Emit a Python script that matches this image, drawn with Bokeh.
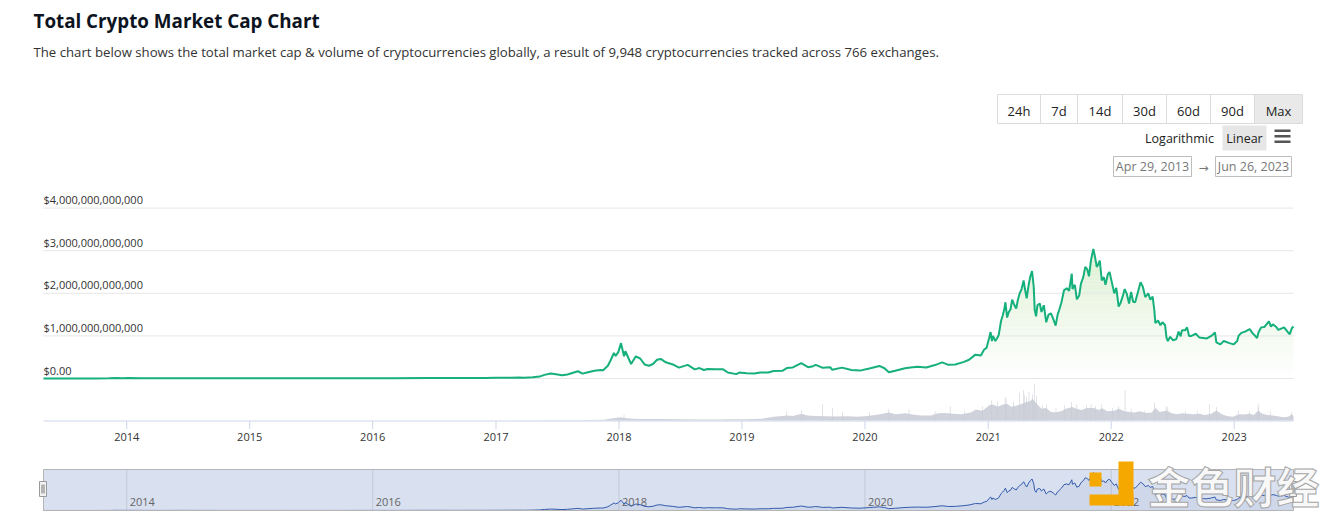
import datetime as dt
import numpy as np
from bokeh.plotting import figure
from bokeh.models import Range1d
from bokeh.layouts import column
from bokeh.core.properties import value
from bokeh.embed import file_html
from bokeh.resources import INLINE

# ---------------- data ----------------
title_text = "Total Crypto Market Cap Chart"
subtitle_text = ("The chart below shows the total market cap & volume of cryptocurrencies globally, "
                 "a result of 9,948 cryptocurrencies tracked across 766 exchanges.")
range_buttons = ["24h", "7d", "14d", "30d", "60d", "90d", "Max"]
scale_buttons = ["Logarithmic", "Linear"]
start_label = "Apr 29, 2013"
end_label = "Jun 26, 2023"
start_date = "2013-04-29"
end_date = "2023-06-26"

ytick_values = [0, 1000, 2000, 3000, 4000]  # billions USD
ytick_labels = ["$0.00", "$1,000,000,000,000", "$2,000,000,000,000",
                "$3,000,000,000,000", "$4,000,000,000,000"]
xtick_years = [2014, 2015, 2016, 2017, 2018, 2019, 2020, 2021, 2022, 2023]
xtick_labels = ["2014", "2015", "2016", "2017", "2018", "2019", "2020", "2021", "2022", "2023"]
nav_tick_years = [2014, 2016, 2018, 2020, 2022]
nav_tick_labels = ["2014", "2016", "2018", "2020", "2022"]

# total market cap, billions USD
mc_dates = [
    "2013-04-29", "2013-06-01", "2013-08-01", "2013-10-01", "2013-11-10", "2013-12-01", "2013-12-20",
    "2014-01-05", "2014-02-15", "2014-04-10", "2014-06-01", "2014-08-01", "2014-10-01", "2014-12-15",
    "2015-01-15", "2015-04-01", "2015-07-01", "2015-09-01", "2015-11-05", "2015-12-31",
    "2016-03-01", "2016-06-17", "2016-09-01", "2016-12-01", "2016-12-31",
    "2017-01-15", "2017-02-15", "2017-03-10", "2017-03-25", "2017-04-20", "2017-05-10", "2017-05-25",
    "2017-06-12", "2017-06-28", "2017-07-16", "2017-08-01", "2017-08-20", "2017-09-01", "2017-09-15",
    "2017-10-01", "2017-10-20", "2017-11-07", "2017-11-15", "2017-11-29", "2017-12-08", "2017-12-17",
    "2017-12-22", "2017-12-30", "2018-01-07", "2018-01-16", "2018-01-20", "2018-02-06", "2018-02-20",
    "2018-03-05", "2018-03-18", "2018-03-31", "2018-04-12", "2018-04-24", "2018-05-05", "2018-05-20",
    "2018-06-10", "2018-06-28", "2018-07-24", "2018-08-14", "2018-08-28", "2018-09-10", "2018-09-21",
    "2018-10-15", "2018-11-06", "2018-11-20", "2018-12-15", "2018-12-24", "2019-01-15", "2019-02-07",
    "2019-02-24", "2019-03-20", "2019-04-05", "2019-05-01", "2019-05-14", "2019-06-01", "2019-06-26",
    "2019-07-16", "2019-07-28", "2019-08-08", "2019-08-29", "2019-09-20", "2019-09-26", "2019-10-25",
    "2019-11-22", "2019-12-17", "2020-01-14", "2020-02-13", "2020-02-28", "2020-03-12", "2020-03-31",
    "2020-04-29", "2020-05-15", "2020-06-05", "2020-07-01", "2020-07-27", "2020-08-17", "2020-09-05",
    "2020-09-25", "2020-10-21", "2020-11-05", "2020-11-24", "2020-12-10", "2020-12-20", "2020-12-27",
    "2021-01-03", "2021-01-08", "2021-01-12", "2021-01-15", "2021-01-22", "2021-01-27", "2021-02-01",
    "2021-02-08", "2021-02-13", "2021-02-17", "2021-02-21", "2021-02-26", "2021-03-03", "2021-03-08",
    "2021-03-13", "2021-03-18", "2021-03-25", "2021-03-30", "2021-04-04", "2021-04-10", "2021-04-16",
    "2021-04-20", "2021-04-25", "2021-05-01", "2021-05-06", "2021-05-11", "2021-05-16", "2021-05-19",
    "2021-05-23", "2021-05-27", "2021-06-03", "2021-06-08", "2021-06-15", "2021-06-22", "2021-06-29",
    "2021-07-06", "2021-07-13", "2021-07-20", "2021-07-26", "2021-07-31", "2021-08-06", "2021-08-14",
    "2021-08-22", "2021-08-29", "2021-09-06", "2021-09-08", "2021-09-15", "2021-09-21", "2021-09-28",
    "2021-10-03", "2021-10-10", "2021-10-16", "2021-10-22", "2021-10-27", "2021-11-02", "2021-11-09",
    "2021-11-14", "2021-11-19", "2021-11-24", "2021-11-28", "2021-12-04", "2021-12-10", "2021-12-15",
    "2021-12-22", "2021-12-27", "2022-01-03", "2022-01-10", "2022-01-16", "2022-01-23", "2022-01-29",
    "2022-02-05", "2022-02-10", "2022-02-16", "2022-02-23", "2022-03-01", "2022-03-07", "2022-03-13",
    "2022-03-20", "2022-03-29", "2022-04-05", "2022-04-12", "2022-04-21", "2022-04-27", "2022-05-04",
    "2022-05-09", "2022-05-12", "2022-05-20", "2022-05-27", "2022-06-02", "2022-06-10", "2022-06-14",
    "2022-06-18", "2022-06-25", "2022-07-03", "2022-07-13", "2022-07-20", "2022-07-26", "2022-07-30",
    "2022-08-08", "2022-08-14", "2022-08-20", "2022-08-27", "2022-09-09", "2022-09-20", "2022-10-01",
    "2022-10-12", "2022-10-25", "2022-11-05", "2022-11-09", "2022-11-21", "2022-12-01", "2022-12-18",
    "2022-12-30", "2023-01-10", "2023-01-14", "2023-01-22", "2023-02-02", "2023-02-16", "2023-02-25",
    "2023-03-10", "2023-03-14", "2023-03-22", "2023-04-01", "2023-04-14", "2023-04-20", "2023-04-26",
    "2023-05-06", "2023-05-12", "2023-05-29", "2023-06-10", "2023-06-15", "2023-06-21", "2023-06-26",
]
mc_values = [
    1.6, 1.4, 1.3, 1.7, 4, 14, 8,
    11, 8, 5, 8, 7, 5, 4.5,
    3, 3.5, 4, 3.5, 6, 7,
    7.5, 12, 10, 12, 17,
    17, 19, 23, 20, 30, 45, 85,
    115, 100, 75, 95, 140, 170, 115,
    145, 180, 200, 195, 300, 440, 600,
    530, 620, 830, 520, 640, 340, 520,
    470, 330, 300, 340, 440, 460, 380,
    330, 255, 320, 215, 245, 200, 225,
    215, 215, 140, 103, 140, 125, 115,
    140, 140, 175, 180, 245, 260, 360,
    265, 280, 320, 250, 265, 205, 255,
    200, 185, 235, 295, 240, 145, 180,
    240, 260, 275, 260, 315, 380, 320,
    330, 390, 440, 560, 540, 680, 720,
    930, 1090, 880, 1000, 880, 940, 1020,
    1350, 1480, 1600, 1790, 1430, 1560, 1620,
    1850, 1750, 1640, 1850, 1990, 2100, 2300,
    2100, 1880, 2200, 2400, 2520, 2150, 1600,
    1460, 1720, 1760, 1560, 1720, 1320, 1500,
    1530, 1400, 1240, 1500, 1620, 1780, 2070,
    2120, 2060, 2460, 2100, 2200, 1860, 1950,
    2220, 2380, 2620, 2560, 2400, 2780, 3040,
    2850, 2620, 2690, 2770, 2300, 2380, 2200,
    2450, 2500, 2250, 2000, 2130, 1690, 1780,
    1950, 2100, 1990, 1760, 2030, 1800, 1790,
    1990, 2260, 2150, 1910, 2000, 1850, 1920,
    1600, 1300, 1360, 1250, 1320, 1250, 960,
    880, 980, 900, 920, 1100, 990, 1130,
    1130, 1200, 1000, 1000, 1050, 960, 950,
    940, 1000, 1080, 850, 800, 880, 830,
    800, 880, 1000, 1070, 1100, 1160, 1060,
    950, 1080, 1200, 1210, 1340, 1220, 1270,
    1210, 1140, 1200, 1080, 1040, 1180, 1220,
]

# 24h volume base level, billions USD
vol_dates = [
    "2013-04-29", "2013-12-01", "2014-06-01", "2015-06-01", "2016-06-01", "2017-01-01", "2017-06-01",
    "2017-09-01", "2017-11-15", "2017-12-15", "2018-01-05", "2018-01-20", "2018-02-10", "2018-03-10",
    "2018-05-01", "2018-07-01", "2018-09-01", "2018-11-01", "2018-12-01", "2019-01-15", "2019-03-01",
    "2019-04-05", "2019-05-15", "2019-06-01", "2019-06-26", "2019-07-15", "2019-08-10", "2019-09-10",
    "2019-10-10", "2019-11-10", "2019-12-10", "2020-01-10", "2020-02-10", "2020-03-12", "2020-04-01",
    "2020-05-01", "2020-05-20", "2020-06-15", "2020-07-15", "2020-08-05", "2020-08-25", "2020-09-20",
    "2020-10-15", "2020-11-10", "2020-11-25", "2020-12-15", "2021-01-04", "2021-01-15", "2021-01-29",
    "2021-02-10", "2021-02-25", "2021-03-10", "2021-03-25", "2021-04-10", "2021-04-25", "2021-05-05",
    "2021-05-12", "2021-05-25", "2021-06-08", "2021-06-22", "2021-07-05", "2021-07-20", "2021-08-05",
    "2021-08-20", "2021-09-07", "2021-09-20", "2021-10-05", "2021-10-20", "2021-11-10", "2021-11-25",
    "2021-12-05", "2021-12-20", "2022-01-10", "2022-01-24", "2022-02-10", "2022-02-25", "2022-03-10",
    "2022-03-28", "2022-04-15", "2022-05-01", "2022-05-12", "2022-05-25", "2022-06-14", "2022-06-30",
    "2022-07-15", "2022-08-01", "2022-08-15", "2022-09-01", "2022-09-20", "2022-10-05", "2022-10-25",
    "2022-11-09", "2022-11-25", "2022-12-10", "2022-12-28", "2023-01-15", "2023-02-01", "2023-02-15",
    "2023-03-01", "2023-03-13", "2023-03-25", "2023-04-10", "2023-04-25", "2023-05-10", "2023-05-28",
    "2023-06-10", "2023-06-21", "2023-06-26",
]
vol_values = [
    0.1, 0.8, 0.2, 0.1, 0.1, 0.3, 2,
    3, 8, 28, 40, 30, 22, 18,
    18, 14, 13, 12, 15, 15, 20,
    45, 60, 55, 80, 60, 55, 50,
    48, 50, 45, 55, 70, 95, 75,
    85, 70, 60, 60, 85, 90, 80,
    75, 95, 130, 115, 180, 190, 165,
    185, 200, 165, 175, 195, 220, 230,
    260, 200, 140, 150, 105, 95, 110,
    140, 160, 140, 125, 150, 150, 125,
    145, 110, 115, 140, 110, 100, 95,
    110, 90, 95, 150, 100, 120, 85,
    75, 85, 80, 75, 80, 65, 80,
    120, 75, 55, 45, 75, 70, 80,
    65, 120, 80, 65, 60, 50, 40,
    45, 75, 55,
]
# single-day volume spikes, billions USD
spike_dates = [
    "2018-01-16", "2019-05-14", "2019-06-27", "2019-08-28", "2019-09-26", "2019-10-26", "2020-01-15",
    "2020-03-12", "2020-05-11", "2020-07-27", "2020-09-10", "2020-10-22", "2020-12-15", "2021-01-11",
    "2021-01-28", "2021-02-20", "2021-02-23", "2021-03-17", "2021-04-04", "2021-04-15", "2021-04-18",
    "2021-04-24", "2021-05-02", "2021-05-12", "2021-05-19", "2021-05-24", "2021-06-10", "2021-06-22",
    "2021-07-21", "2021-08-16", "2021-09-05", "2021-09-21", "2021-10-20", "2021-11-02", "2021-11-16",
    "2021-12-04", "2022-01-05", "2022-01-22", "2022-02-11", "2022-03-01", "2022-04-11", "2022-05-10",
    "2022-06-13", "2022-06-18", "2022-08-10", "2022-09-13", "2022-10-20", "2022-11-09", "2023-01-14",
    "2023-02-15", "2023-03-13", "2023-03-15", "2023-04-18", "2023-06-21",
]
spike_values = [
    70, 110, 120, 190, 150, 100, 95,
    140, 130, 110, 170, 110, 170, 240,
    230, 280, 260, 230, 330, 360, 300,
    280, 340, 310, 440, 290, 180, 190,
    150, 180, 220, 190, 180, 200, 170,
    190, 150, 170, 360, 140, 120, 210,
    170, 160, 110, 120, 190, 160, 120,
    110, 200, 160, 110, 100,
]

# ---------------- helpers ----------------
EPOCH = dt.datetime(1970, 1, 1)


def ms(s):
    return (dt.datetime.strptime(s, "%Y-%m-%d") - EPOCH).total_seconds() * 1000.0


FONT = "Open Sans"
GREEN = "#16b07c"
W, H = 1335, 519
HEAD_H, MAIN_H = 190, 265
NAV_H = H - HEAD_H - MAIN_H

t0 = ms(start_date)
t1 = ms(end_date)
PL, PR = 43, 1293                      # page x of the plot area
mspp = (t1 - t0) / (PR - PL)           # ms per pixel
DATE_RANGE = (t0 - PL * mspp, t1 + (W - PR) * mspp)

mc_x = np.array([ms(d) for d in mc_dates])
mc_y = np.array(mc_values, dtype=float)
vol_x = [ms(d) for d in vol_dates]
spk_x = [ms(d) for d in spike_dates]


def canvas(h, top):
    f = figure(width=W, height=h, x_range=Range1d(0, W), y_range=Range1d(top + h, top),
               x_axis_location=None, y_axis_location=None, toolbar_location=None,
               output_backend="svg", min_border=0, title=None)
    f.outline_line_color = None
    f.background_fill_color = "white"
    f.border_fill_color = "white"
    f.grid.visible = False
    return f


def txt(fig, x, y, s, size, color, align="left", baseline="middle", style="normal",
        font=FONT, **kw):
    return fig.text(x=[x], y=[y], text=[s], text_font=value(font), text_font_size=size,
                    text_color=color, text_align=align, text_baseline=baseline,
                    text_font_style=style, **kw)


# ---------------- header ----------------
head = canvas(HEAD_H, 0)
txt(head, 33, 20, title_text, "18.8px", "#0d1421", style="bold")
txt(head, 33, 51, subtitle_text, "13.2px", "#333333")

btn_edges = [997, 1040, 1077, 1122, 1166, 1210, 1254, 1302]
head.quad(left=[btn_edges[-2]], right=[btn_edges[-1]], top=[94], bottom=[123],
          fill_color="#e9e9e9", line_color=None)
head.quad(left=[btn_edges[0]], right=[btn_edges[-1]], top=[94], bottom=[123],
          fill_color=None, line_color="#dcdcdc", line_width=1)
head.segment(x0=btn_edges[1:-1], y0=[94] * 6, x1=btn_edges[1:-1], y1=[123] * 6,
             line_color="#dcdcdc", line_width=1)
head.text(x=[(a + b) / 2 for a, b in zip(btn_edges[:-1], btn_edges[1:])], y=[110] * 7,
          text=range_buttons, text_font=value(FONT), text_font_size="13px",
          text_color="#222222", text_align="center", text_baseline="middle")

head.quad(left=[1222], right=[1266], top=[125], bottom=[150], fill_color="#e6e6e6", line_color=None)
txt(head, 1179, 138, scale_buttons[0], "12.5px", "#222222", align="center")
txt(head, 1244, 138, scale_buttons[1], "12.5px", "#222222", align="center")
head.quad(left=[1274] * 3, right=[1290] * 3, top=[129, 134.5, 140], bottom=[131.5, 137, 142.5],
          fill_color="#555555", line_color=None)

head.quad(left=[1113, 1215], right=[1191, 1291], top=[156, 156], bottom=[176, 176],
          fill_color="white", line_color="#bdbdbd", line_width=1)
txt(head, 1152, 166, start_label, "12.5px", "#777777", align="center")
txt(head, 1253, 166, end_label, "12.5px", "#777777", align="center")
txt(head, 1203, 167, "\u2192", "12px", "#777777", align="center", font="DejaVu Sans")

# ---------------- main chart ----------------
main = canvas(MAIN_H, HEAD_H)
y_zero, px_per_T = 378.0, 42.6
vol_zero, px_per_vol = 420.0, 37.0 / 440.0
main.extra_x_ranges = {"date": Range1d(*DATE_RANGE)}
main.extra_y_ranges = {
    "mc": Range1d(-(HEAD_H + MAIN_H - y_zero) / px_per_T * 1000, (y_zero - HEAD_H) / px_per_T * 1000),
    "vol": Range1d(-(HEAD_H + MAIN_H - vol_zero) / px_per_vol, (vol_zero - HEAD_H) / px_per_vol),
}
D = dict(x_range_name="date")

# volume
main.varea(x=vol_x, y1=0, y2=vol_values, y_range_name="vol", fill_color="#cfd2da", **D)
main.vbar(x=spk_x, top=spike_values, bottom=0, width=1.6 * 86400000, y_range_name="vol",
          fill_color="#c8cbd4", line_color=None, **D)

# vertical gradient fill under the market cap line: opaque bands, white at 0 -> pale green at top
top_rgb = np.array([222, 241, 212])
white = np.array([255, 255, 255])
band = 100
for L in np.arange(0, 3100, band):
    frac = min((L + band / 2) / 3000.0, 1.0)
    c = white + (top_rgb - white) * frac
    col = "#%02x%02x%02x" % tuple(int(round(v)) for v in c)
    main.varea(x=mc_x, y1=L, y2=np.clip(mc_y, L, L + band), fill_color=col,
               y_range_name="mc", **D)

# horizontal grid (drawn over the soft fill, under the line)
main.segment(x0=[t0] * 5, x1=[t1] * 5, y0=ytick_values, y1=ytick_values, y_range_name="mc",
             line_color="#e6e6e6", line_width=1, **D)

main.line(x=mc_x, y=mc_y, line_color=GREEN, line_width=2, y_range_name="mc", **D)

# y labels inside the plot, above their grid lines
main.text(x=[t0] * len(ytick_values), y=ytick_values, text=ytick_labels, y_range_name="mc",
          text_font=value(FONT), text_font_size="11px", text_color="#333333",
          text_align="left", text_baseline="bottom", y_offset=-1, **D)

# x axis
xt = [ms(f"{y}-01-01") for y in xtick_years]
main.segment(x0=[t0], x1=[t1], y0=[420.5], y1=[420.5], line_color="#ccd6eb", line_width=1, **D)
main.segment(x0=xt, x1=xt, y0=[420.5] * len(xt), y1=[428.5] * len(xt),
             line_color="#ccd6eb", line_width=1, **D)
main.text(x=xt, y=[436] * len(xt), text=xtick_labels, text_font=value(FONT),
          text_font_size="11px", text_color="#333333", text_align="center",
          text_baseline="middle", **D)

# ---------------- navigator ----------------
top_nav = HEAD_H + MAIN_H
nav = canvas(NAV_H, top_nav)
nav_zero, nav_px_per_T = 510.0, 12.5
nav.extra_x_ranges = {"date": Range1d(*DATE_RANGE)}
nav.extra_y_ranges = {"nav": Range1d(-(H - nav_zero) / nav_px_per_T * 1000,
                                     (nav_zero - top_nav) / nav_px_per_T * 1000)}

nav.quad(left=[PL], right=[PR], top=[469], bottom=[510], fill_color="#d9e0ef", line_color=None)
nav_x = [ms(f"{y}-01-01") for y in nav_tick_years]
nav.segment(x0=nav_x, y0=[469] * len(nav_x), x1=nav_x, y1=[510] * len(nav_x),
            line_color="#c3c9d6", line_width=1, **D)
nav.text(x=nav_x, y=[505] * len(nav_x), text=nav_tick_labels,
         text_font=value(FONT), text_font_size="11px", text_color="#666666",
         text_align="left", text_baseline="bottom", x_offset=3, **D)
nav.varea(x=mc_x, y1=0, y2=mc_y, y_range_name="nav", fill_color="#335cad", fill_alpha=0.06, **D)
nav.line(x=mc_x, y=mc_y, y_range_name="nav", line_color="#335cad", line_width=1, **D)
nav.quad(left=[PL], right=[PR], top=[469], bottom=[510], fill_color=None,
         line_color="#b5b5b5", line_width=1)
for hx in (PL, PR):
    nav.quad(left=[hx - 4], right=[hx + 3], top=[481], bottom=[496], fill_color="#f2f2f2",
             line_color="#999999", line_width=1)
    nav.segment(x0=[hx - 1.5, hx + 0.5], y0=[484, 484], x1=[hx - 1.5, hx + 0.5], y1=[493, 493],
                line_color="#777777", line_width=1)

# watermark: orange logo + white text with a grey outline
nav.quad(left=[1089, 1118, 1089], right=[1101, 1133, 1133], top=[472, 461, 494],
         bottom=[486, 505, 505], fill_color="#f5a800", line_color=None)
wm = "\u91d1\u8272\u8d22\u7ecf"
CJK = "Noto Sans CJK SC"
r = txt(nav, 1147, 484, wm, "43px", "#f8f8f8", style="bold", font=CJK)
try:
    r.glyph.text_outline_color = "#a6a6a6"
except Exception:
    r.glyph.text_color = "#e4e4e4"

layout = column(head, main, nav, spacing=0)
open("out.html", "w").write(file_html(layout, INLINE))
